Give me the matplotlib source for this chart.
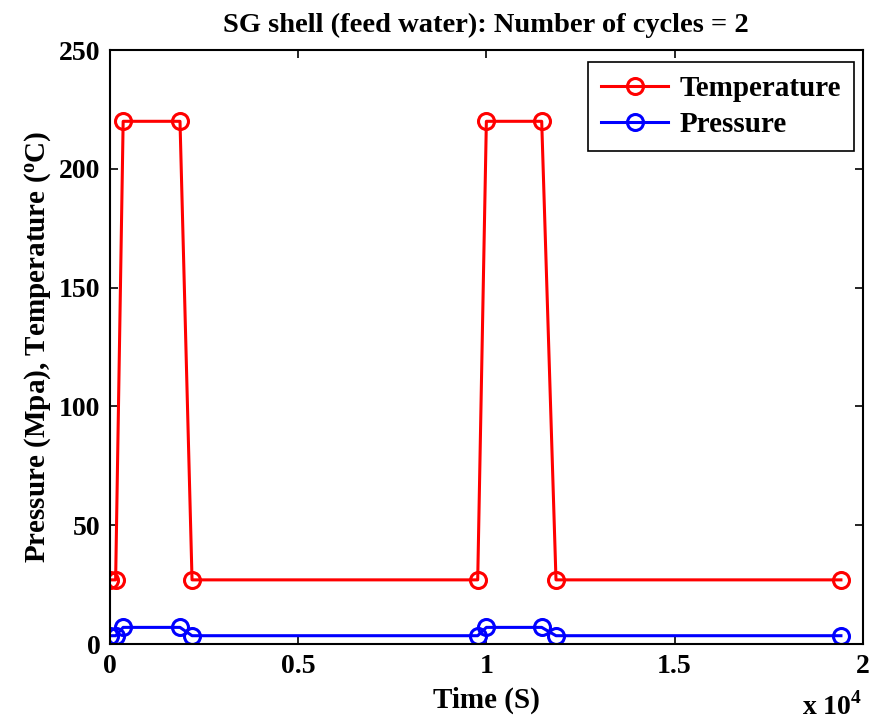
import matplotlib
matplotlib.use("Agg")
import matplotlib.pyplot as plt
from matplotlib.ticker import FuncFormatter

# Time history of the SG shell (feed water) transient, two cycles
time_s = [0, 150, 350, 1860, 2180, 9770, 10000, 11470, 11850, 19420]
temperature_c = [27, 27, 220, 220, 27, 27, 220, 220, 27, 27]
time_p = [0, 150, 350, 1860, 2180, 9770, 10000, 11470, 11850, 19420]
pressure_mpa = [3.5, 3.5, 7.0, 7.0, 3.5, 3.5, 7.0, 7.0, 3.5, 3.5]

x_ticks = [0, 5000, 10000, 15000, 20000]
y_ticks = [0, 50, 100, 150, 200, 250]

plt.rcParams['font.family'] = ['Liberation Serif', 'DejaVu Serif']
plt.rcParams['font.weight'] = 'bold'
plt.rcParams['mathtext.fontset'] = 'custom'
plt.rcParams['mathtext.rm'] = 'Liberation Serif:bold'
plt.rcParams['mathtext.bf'] = 'Liberation Serif:bold'

fig = plt.figure(figsize=(8.75, 7.25), dpi=100)
ax = fig.add_axes([0.1257, 0.1117, 0.8603, 0.8193])

ax.plot(time_s, temperature_c, color='#ff0000', lw=2.2, marker='o',
        ms=11.5, mfc='none', mew=2.2, label='Temperature')
ax.plot(time_p, pressure_mpa, color='#0000ff', lw=2.2, marker='o',
        ms=11.5, mfc='none', mew=2.2, label='Pressure')

ax.set_xlim(0, 20000)
ax.set_ylim(0, 250)
ax.set_xticks(x_ticks)
ax.set_yticks(y_ticks)
ax.xaxis.set_major_formatter(FuncFormatter(lambda v, p: '0' if v == 0 else ('%g' % (v / 1e4))))
ax.tick_params(direction='in', top=True, right=True, length=6, width=1.2,
               labelsize=20, pad=7)
for lbl in ax.get_xticklabels() + ax.get_yticklabels():
    lbl.set_fontweight('bold')
for s in ax.spines.values():
    s.set_linewidth(1.5)

ax.set_title('SG shell (feed water): Number of cycles = 2', fontsize=20.5,
             fontweight='bold', pad=13)
ax.set_xlabel('Time (S)', fontsize=21, fontweight='bold', labelpad=6)
ax.set_ylabel('Pressure (Mpa), Temperature ($\\mathregular{^o}$C)', fontsize=21,
              fontweight='bold', labelpad=4)
fig.text(0.985, 0.006, 'x 10$^{\\mathregular{4}}$', ha='right', va='bottom',
         fontsize=20, fontweight='bold')

leg = ax.legend(loc='upper right', fontsize=21, fancybox=False, framealpha=1,
                edgecolor='black', handlelength=2.3, handletextpad=0.4,
                borderpad=0.45, labelspacing=0.3, borderaxespad=0,
                bbox_to_anchor=(0.989, 0.98))
leg.get_frame().set_linewidth(1.2)
for t in leg.get_texts():
    t.set_fontweight('bold')

fig.savefig('out.png', dpi=100)
